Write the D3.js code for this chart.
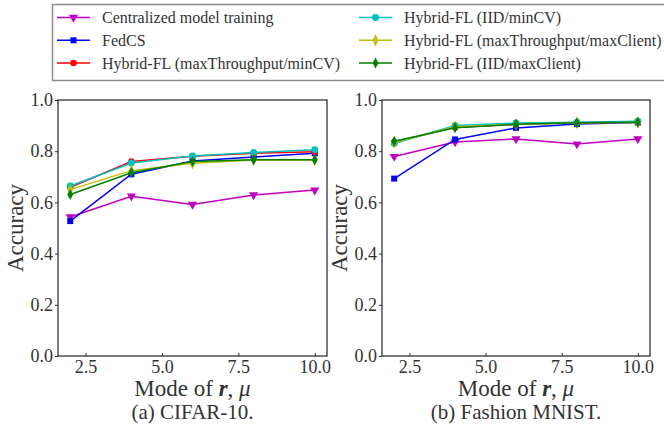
<!DOCTYPE html>
<html>
<head>
<meta charset="utf-8">
<script src="https://cdn.jsdelivr.net/npm/d3@7"></script>
<style>
  body { margin: 0; background: #fff; }
</style>
</head>
<body>
<svg id="chart" width="664" height="430"></svg>
<script>
// mode of r (x axis)
var modes = [2, 4, 6, 8, 10];

var seriesNames = [
    "Centralized model training",
    "FedCS",
    "Hybrid-FL (maxThroughput/minCV)",
    "Hybrid-FL (IID/minCV)",
    "Hybrid-FL (maxThroughput/maxClient)",
    "Hybrid-FL (IID/maxClient)"
];

// CIFAR-10 accuracy
var cifarCentral = [0.543, 0.624, 0.592, 0.629, 0.648];
var cifarFedCS = [0.527, 0.710, 0.762, 0.777, 0.792];
var cifarTpMinCV = [0.659, 0.760, 0.780, 0.792, 0.798];
var cifarIidMinCV = [0.664, 0.754, 0.781, 0.795, 0.806];
var cifarTpMaxCl = [0.650, 0.724, 0.753, 0.766, 0.766];
var cifarIidMaxCl = [0.631, 0.716, 0.760, 0.767, 0.767];

// Fashion MNIST accuracy
var fmnCentral = [0.779, 0.836, 0.848, 0.828, 0.848];
var fmnFedCS = [0.693, 0.846, 0.891, 0.906, 0.912];
var fmnTpMinCV = [0.836, 0.893, 0.905, 0.911, 0.913];
var fmnIidMinCV = [0.830, 0.900, 0.910, 0.913, 0.917];
var fmnTpMaxCl = [0.834, 0.896, 0.904, 0.911, 0.912];
var fmnIidMaxCl = [0.839, 0.892, 0.905, 0.911, 0.913];

var xTicks = [2.5, 5.0, 7.5, 10.0];
var yTicks = [0.0, 0.2, 0.4, 0.6, 0.8, 1.0];

var colors = ["#bf00bf", "#0000ff", "#ff0000", "#00bfbf", "#bfbf00", "#008000"];
var symbols = [
    d3.symbolTriangle,   // drawn flipped -> down triangle
    d3.symbolSquare,
    d3.symbolCircle,
    d3.symbolCircle,
    d3.symbolDiamond,
    d3.symbolDiamond
];
var symSize = [36, 36, 32, 38, 44, 36];
var FONT = "'Liberation Serif', 'DejaVu Serif', serif";

var svg = d3.select("#chart").attr("font-family", FONT);

function markerPath(i) {
    return d3.symbol().type(symbols[i]).size(symSize[i])();
}

function markerTf(i, px, py) {
    return "translate(" + px + "," + py + ")" +
        (i === 0 ? " rotate(180)" : "") + (i === 5 ? " scale(0.9,1)" : "") + (i === 4 ? " scale(0.8,1)" : "");
}

function drawPanel(box, dataSets, caption) {
    var x = d3.scaleLinear().domain([1.6, 10.4]).range([box.left, box.right]);
    var y = d3.scaleLinear().domain([0, 1]).range([box.bottom, box.top]);

    var g = svg.append("g");

    // axes
    var xAxis = d3.axisBottom(x).tickValues(xTicks).tickFormat(d3.format(".1f"))
        .tickSizeInner(-3).tickSizeOuter(0).tickPadding(6);
    var yAxis = d3.axisLeft(y).tickValues(yTicks).tickFormat(d3.format(".1f"))
        .tickSizeInner(3).tickSizeOuter(0).tickPadding(2);

    var gx = g.append("g").attr("transform", "translate(0," + box.bottom + ")").call(xAxis);
    var gy = g.append("g").attr("transform", "translate(" + box.left + ",0)").call(yAxis);
    [gx, gy].forEach(a => {
        a.attr("font-family", FONT);
        a.select(".domain").remove();
        a.selectAll(".tick line").attr("stroke", "#333");
        a.selectAll(".tick text").style("font-family", FONT).style("font-size", "18px").attr("fill", "#333");
    });
    gx.selectAll(".tick text").attr("dy", "0.6em");

    // series
    dataSets.forEach((vals, i) => {
        var pts = modes.map((m, j) => [m, vals[j]]);
        g.append("path")
            .datum(pts)
            .attr("fill", "none")
            .attr("stroke", colors[i])
            .attr("stroke-width", 1.5)
            .attr("d", d3.line().x(d => x(d[0])).y(d => y(d[1])));
        g.selectAll(".mk" + i)
            .data(pts)
            .join("path")
            .attr("class", "mk" + i)
            .attr("d", markerPath(i))
            .attr("fill", colors[i])
            .attr("transform", d => markerTf(i, x(d[0]), y(d[1])));
    });

    // frame
    g.append("rect")
        .attr("x", box.left).attr("y", box.top)
        .attr("width", box.right - box.left).attr("height", box.bottom - box.top)
        .attr("fill", "none").attr("stroke", "#222").attr("stroke-width", 1.2);

    var cx = (box.left + box.right) / 2;

    // y label
    g.append("text")
        .attr("transform", "translate(" + (box.left - 35) + "," + ((box.top + box.bottom) / 2) + ") rotate(-90)")
        .attr("text-anchor", "middle")
        .attr("fill", "#333")
        .style("font-family", FONT)
        .style("font-size", "23px")
        .text("Accuracy");

    // x label
    var xl = g.append("text")
        .attr("x", cx).attr("y", box.bottom + 40)
        .attr("text-anchor", "middle")
        .attr("fill", "#333")
        .style("font-family", FONT)
        .style("font-size", "23px");
    xl.append("tspan").text("Mode of ");
    xl.append("tspan").style("font-weight", "bold").style("font-style", "italic").text("r");
    xl.append("tspan").text(", ");
    xl.append("tspan").style("font-style", "italic").text("\u03bc");

    g.append("text")
        .attr("x", cx).attr("y", box.bottom + 63)
        .attr("text-anchor", "middle")
        .attr("fill", "#333")
        .style("font-family", FONT)
        .style("font-size", "21px")
        .text(caption);
}

drawPanel({left: 58, right: 327, top: 100, bottom: 356},
    [cifarCentral, cifarFedCS, cifarTpMinCV, cifarIidMinCV, cifarTpMaxCl, cifarIidMaxCl],
    "(a) CIFAR-10.");
drawPanel({left: 382, right: 650, top: 100, bottom: 356},
    [fmnCentral, fmnFedCS, fmnTpMinCV, fmnIidMinCV, fmnTpMaxCl, fmnIidMaxCl],
    "(b) Fashion MNIST.");

// legend
var legend = svg.append("g");
legend.append("rect")
    .attr("x", 52.5).attr("y", 4.5).attr("width", 640).attr("height", 76)
    .attr("fill", "#fff").attr("stroke", "#8c8c8c").attr("stroke-width", 1.5);

var legCols = [57, 359];
var legRows = [17.5, 40.3, 63];
seriesNames.forEach((name, i) => {
    var lx = legCols[Math.floor(i / 3)];
    var ly = legRows[i % 3];
    var item = legend.append("g");
    item.append("line")
        .attr("x1", lx).attr("x2", lx + 33).attr("y1", ly).attr("y2", ly)
        .attr("stroke", colors[i]).attr("stroke-width", 1.5);
    item.append("path")
        .attr("d", markerPath(i))
        .attr("fill", colors[i])
        .attr("transform", markerTf(i, lx + 16.5, ly));
    item.append("text")
        .attr("x", lx + 45).attr("y", ly + 5.5)
        .attr("fill", "#333")
        .style("font-family", FONT)
        .style("font-size", "16px")
        .text(name);
});
</script>
</body>
</html>
